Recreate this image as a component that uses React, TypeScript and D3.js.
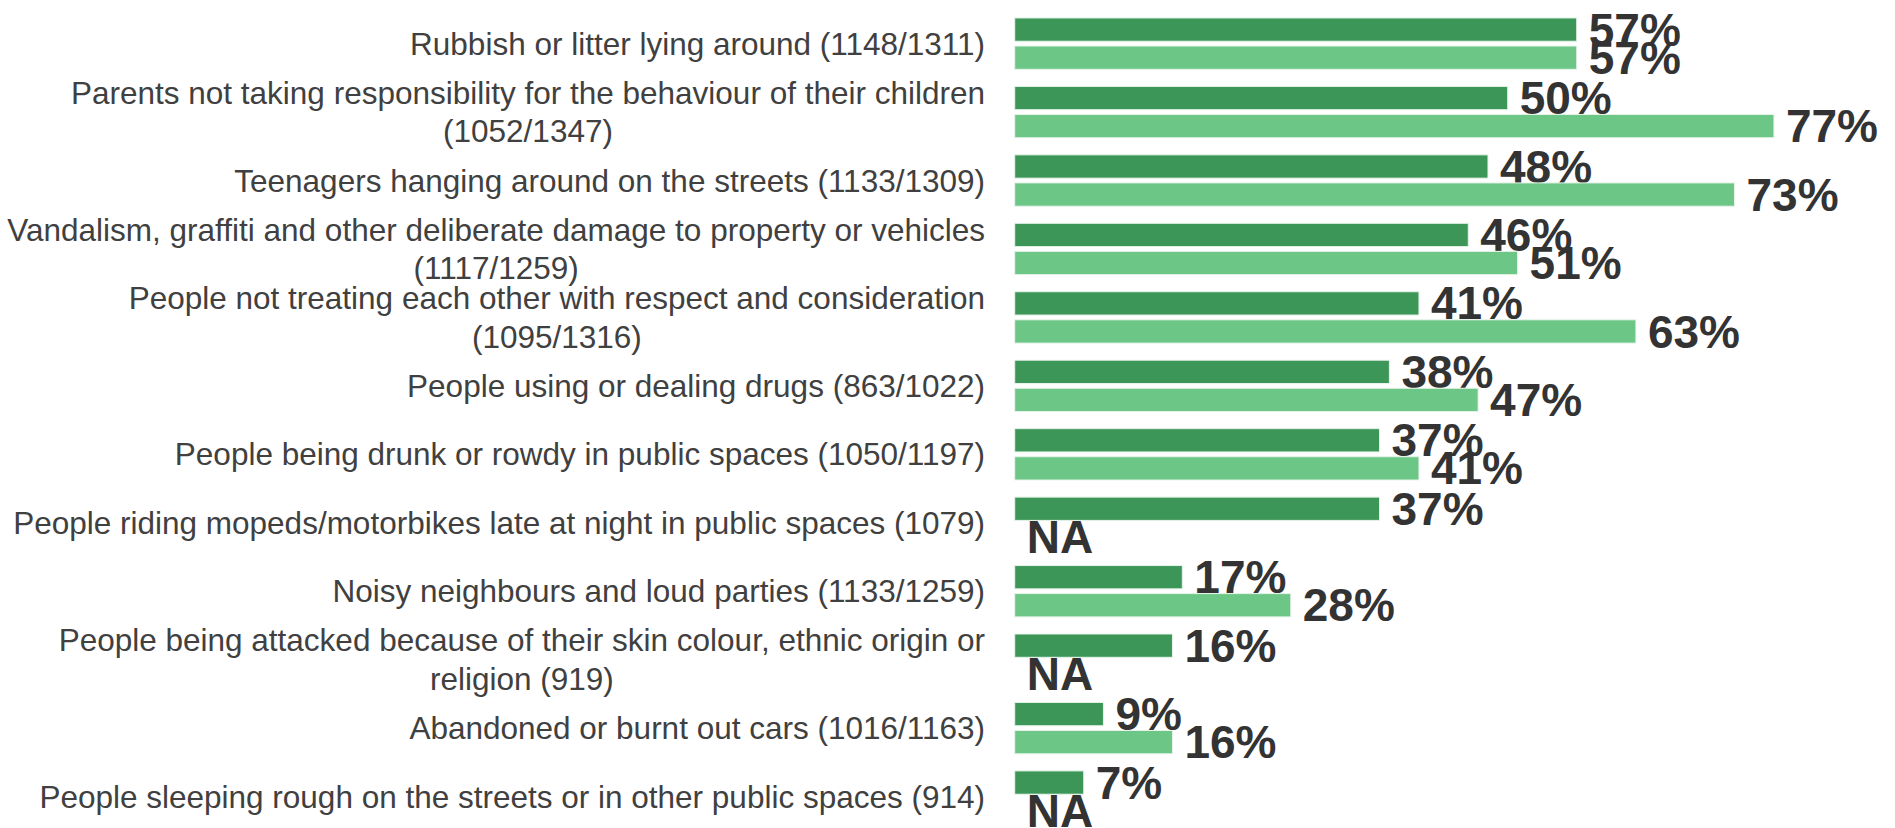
import React from "react";
import * as d3 from "d3";

const categories: string[] = [
  "Rubbish or litter lying around (1148/1311)",
  "Parents not taking responsibility for the behaviour of their children\n(1052/1347)",
  "Teenagers hanging around on the streets (1133/1309)",
  "Vandalism, graffiti and other deliberate damage to property or vehicles\n(1117/1259)",
  "People not treating each other with respect and consideration\n(1095/1316)",
  "People using or dealing drugs (863/1022)",
  "People being drunk or rowdy in public spaces (1050/1197)",
  "People riding mopeds/motorbikes late at night in public spaces (1079)",
  "Noisy neighbours and loud parties (1133/1259)",
  "People being attacked because of their skin colour, ethnic origin or\nreligion (919)",
  "Abandoned or burnt out cars (1016/1163)",
  "People sleeping rough on the streets or in other public spaces (914)",
];

const seriesA: (number | null)[] = [57, 50, 48, 46, 41, 38, 37, 37, 17, 16, 9, 7];
const seriesB: (number | null)[] = [57, 77, 73, 51, 63, 47, 41, null, 28, null, 16, null];

const seriesKeys = ["A", "B"];
const seriesColors = ["#3c9658", "#6cc686"];

const W = 1895;
const H = 828;
const FONT = "'Liberation Sans', Arial, sans-serif";
const CAT_SIZE = 31.5;

let ctx: CanvasRenderingContext2D | null = null;
function measure(t: string): number {
  if (!ctx) {
    const c = document.createElement("canvas");
    ctx = c.getContext("2d");
  }
  if (!ctx) return t.length * CAT_SIZE * 0.5;
  ctx.font = `${CAT_SIZE}px ${FONT}`;
  return ctx.measureText(t).width;
}

export default function App() {
  const x = d3.scaleLinear().domain([0, 100]).range([1014.7, 1014.7 + 986]);
  const y = d3
    .scaleBand<string>()
    .domain(categories)
    .range([9.4, 9.4 + 12 * 68.45])
    .paddingInner(0.25)
    .paddingOuter(0.125);
  const sub = d3
    .scaleBand<string>()
    .domain(seriesKeys)
    .range([0, y.bandwidth()])
    .paddingInner(0.17);

  const series = [seriesA, seriesB];
  const lineH = 38.5;
  const labelRight = 985;

  return (
    <svg
      width={W}
      height={H}
      style={{ position: "absolute", left: 0, top: 0, background: "#fff" }}
    >
      {categories.map((c, i) => {
        const lines = c.split("\n");
        const cy = (y(c) as number) + y.bandwidth() / 2;
        const startY = cy - ((lines.length - 1) * lineH) / 2;
        const blockW = lines.length > 1 ? Math.max(...lines.map(measure)) : 0;
        const cx = labelRight - blockW / 2;
        return (
          <g key={c}>
            {lines.map((l, j) => (
              <text
                key={j}
                x={lines.length > 1 ? cx : labelRight}
                y={startY + j * lineH}
                dy="0.35em"
                textAnchor={lines.length > 1 ? "middle" : "end"}
                fontFamily={FONT}
                fontSize={CAT_SIZE}
                fill="#404040"
              >
                {l}
              </text>
            ))}
            {series.map((s, k) => {
              const v = s[i];
              const by = (y(c) as number) + (sub(seriesKeys[k]) as number);
              const bh = sub.bandwidth();
              return (
                <g key={k}>
                  {v !== null && (
                    <rect
                      x={x(0)}
                      y={by}
                      width={x(v) - x(0)}
                      height={bh}
                      fill={seriesColors[k]}
                      stroke="#e6f3ea"
                      strokeWidth={1}
                    />
                  )}
                  <text
                    x={x(v ?? 0) + 12}
                    y={by + bh / 2}
                    dy="0.35em"
                    fontFamily={FONT}
                    fontWeight="bold"
                    fontSize={46}
                    fill="#333333"
                  >
                    {v === null ? "NA" : `${v}%`}
                  </text>
                </g>
              );
            })}
          </g>
        );
      })}
    </svg>
  );
}
